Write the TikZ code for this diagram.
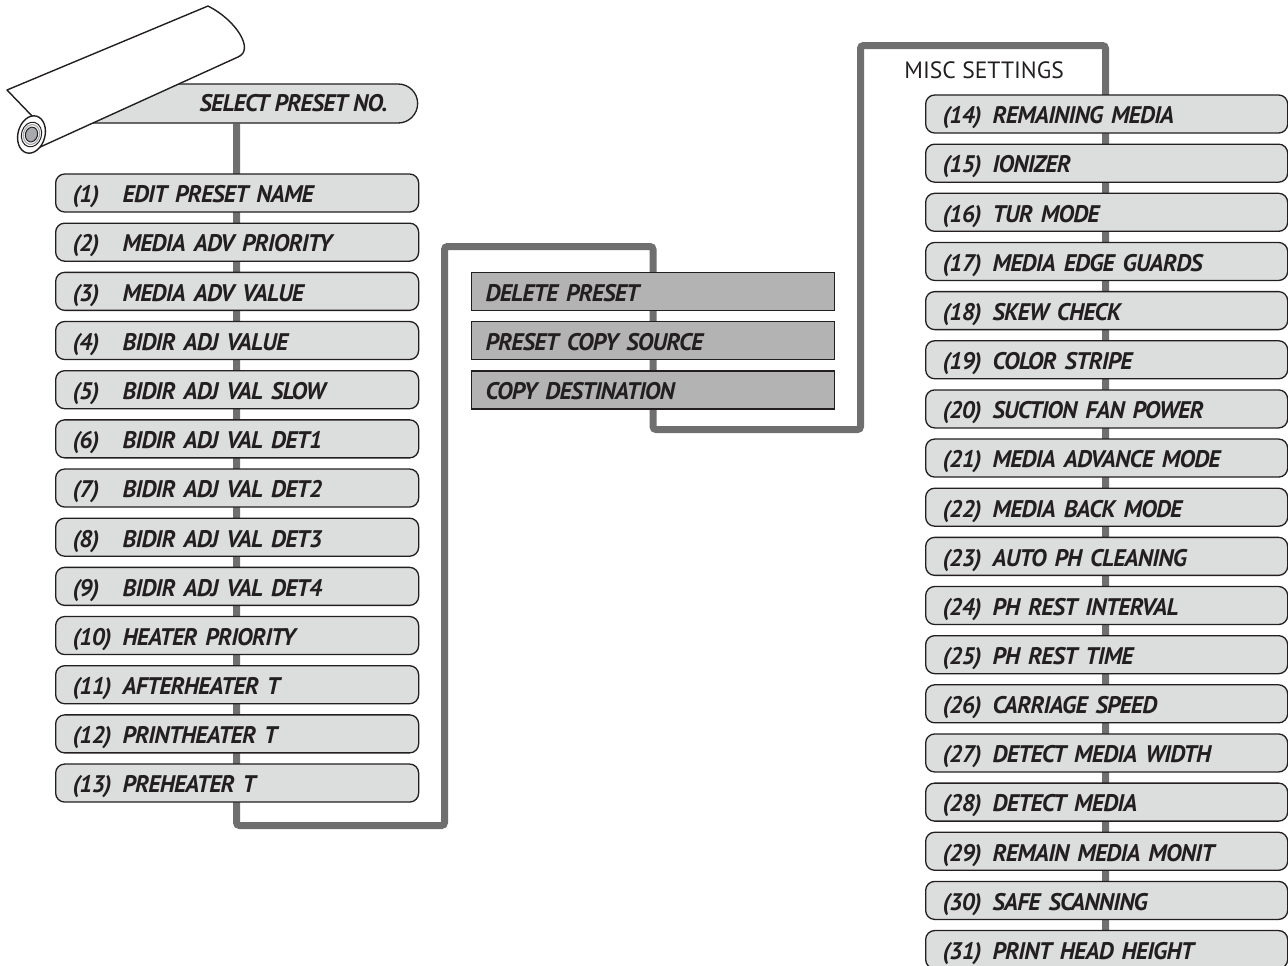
\documentclass[tikz,border=0pt]{standalone}
\usepackage{fontspec}
\setmainfont{PT Sans}
\newfontfamily\itemfont{PT Sans}[LetterSpace=-3]
\usetikzlibrary{backgrounds,shapes.misc}

\definecolor{ink}{HTML}{231F20}
\definecolor{panel}{HTML}{DCDDDD}
\definecolor{action}{HTML}{B3B3B3}
\definecolor{wire}{HTML}{6F6F6F}
\definecolor{core}{HTML}{A7A9AC}

% numbered menu entry: fixed-width number column, then the item name
\newcommand{\entry}[2]{\makebox[25pt][l]{(#1)}#2}

\begin{document}
\begin{tikzpicture}[x=0.5pt,y=-0.5pt,
  menufont/.style={font=\itemfont\fontsize{12}{14}\selectfont\bfseries\itshape, text=ink},
  itembox/.style={menufont, draw=ink, line width=0.65pt, anchor=west,
    minimum height=19pt, inner ysep=0pt, inner xsep=8.5pt,
    text height=9.8pt, text depth=0pt, align=left},
  menubox/.style={itembox, fill=panel, rounded corners=4.5pt, text width=164.5pt},
  actionbox/.style={itembox, fill=action, inner xsep=7pt, text width=167.5pt},
  headbox/.style={draw=ink, line width=0.65pt, fill=panel, anchor=west,
    rounded rectangle, rounded rectangle west arc=none,
    minimum width=162.5pt, minimum height=19.5pt, inner sep=0pt},
  wireline/.style={draw=wire, line width=3.5pt, rounded corners=1.5pt},
  rollline/.style={draw=ink, line width=0.7pt, line join=round}
]
\useasboundingbox (0,0) rectangle (1288,965);

% top entry: preset selection
\node[headbox] (sel) at (92,103.5) {};
\node[menufont, anchor=base east, inner sep=0pt] (seltext) at (388,111.5) {SELECT PRESET NO.};

% preset items (1)-(13)
\foreach \n/\t [count=\i from 0] in {
  1/EDIT PRESET NAME, 2/MEDIA ADV PRIORITY, 3/MEDIA ADV VALUE,
  4/BIDIR ADJ VALUE, 5/BIDIR ADJ VAL SLOW, 6/BIDIR ADJ VAL DET1,
  7/BIDIR ADJ VAL DET2, 8/BIDIR ADJ VAL DET3, 9/BIDIR ADJ VAL DET4,
  10/HEATER PRIORITY, 11/AFTERHEATER T, 12/PRINTHEATER T, 13/PREHEATER T}
  \node[menubox] (l\n) at (55,{193+49.17*\i}) {\entry{\n}{\t}};

% preset actions
\foreach \t [count=\i from 0] in {DELETE PRESET, PRESET COPY SOURCE, COPY DESTINATION}
  \node[actionbox] (m\i) at (471,{291.5+49.2*\i}) {\t};

% misc settings (14)-(31)
\node[font=\fontsize{11.8}{13}\selectfont, text=ink, anchor=base west, inner sep=0pt]
  (misc) at (904,78) {MISC SETTINGS};
\foreach \n/\t [count=\i from 0] in {
  14/REMAINING MEDIA, 15/IONIZER, 16/TUR MODE, 17/MEDIA EDGE GUARDS,
  18/SKEW CHECK, 19/COLOR STRIPE, 20/SUCTION FAN POWER,
  21/MEDIA ADVANCE MODE, 22/MEDIA BACK MODE, 23/AUTO PH CLEANING,
  24/PH REST INTERVAL, 25/PH REST TIME, 26/CARRIAGE SPEED,
  27/DETECT MEDIA WIDTH, 28/DETECT MEDIA, 29/REMAIN MEDIA MONIT,
  30/SAFE SCANNING, 31/PRINT HEAD HEIGHT}
  \node[menubox, text width=164pt] (r\n) at (925,{114+49.15*\i}) {\entry{\n}{\t}};

% bends of the menu path
\coordinate (k1) at (236.5,825.5);
\coordinate (k2) at (444.5,825.5);
\coordinate (k3) at (444.5,246.5);
\coordinate (k4) at (653,246.5);
\coordinate (k5) at (653,429.5);
\coordinate (k6) at (860.5,429.5);
\coordinate (k7) at (860.5,45.5);
\coordinate (k8) at (1105.5,45.5);

\begin{scope}[on background layer]
  \draw[wireline] (sel.south -| k1) -- (k1) -- (k2) -- (k3) -- (k4)
    -- (k5) -- (k6) -- (k7) -- (k8) -- (r31.center -| k8);
\end{scope}

% media roll
\draw[rollline, fill=white] (7,90) -- (208,6)
  .. controls (236,20) and (255,50) .. (238,57)
  -- (38,148) -- (31.5,134.5) -- (33,117) -- cycle;
\begin{scope}[rotate around={-15:(31.5,134.5)}]
  \draw[rollline, fill=white] (31.5,134.5) ellipse [x radius=6.75pt, y radius=9.5pt];
  \draw[draw=ink, line width=0.5pt] (31.5,134.5) ellipse [x radius=5pt, y radius=6.25pt];
  \draw[draw=core, line width=0.6pt] (31.5,134.5) ellipse [x radius=4pt, y radius=5pt];
  \draw[draw=ink, line width=0.5pt, fill=core] (31.5,134.5) ellipse [x radius=3pt, y radius=3.75pt];
\end{scope}
\end{tikzpicture}
\end{document}
